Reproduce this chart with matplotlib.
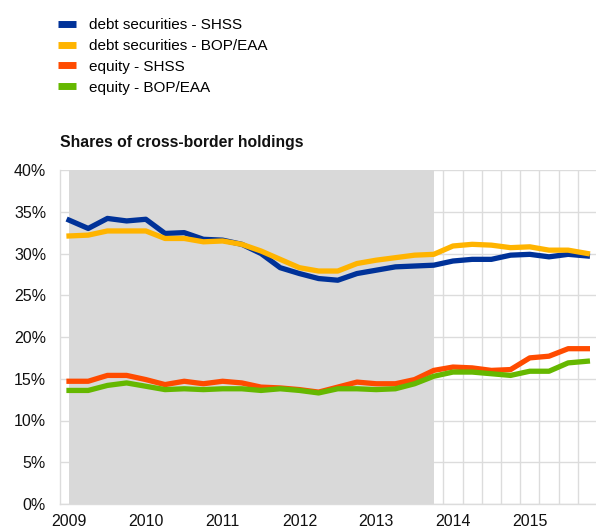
import matplotlib
matplotlib.use("Agg")
import matplotlib.pyplot as plt
from matplotlib.lines import Line2D
import numpy as np

plt.rcParams['font.family'] = ['Liberation Sans', 'DejaVu Sans']

years = ["2009", "2010", "2011", "2012", "2013", "2014", "2015"]
debt_shss = [34.0, 33.0, 34.2, 33.9, 34.1, 32.4, 32.5, 31.7, 31.6, 31.1,
             30.0, 28.3, 27.6, 27.0, 26.8, 27.6, 28.0, 28.4, 28.5, 28.6,
             29.1, 29.3, 29.3, 29.8, 29.9, 29.6, 29.9, 29.7]
debt_bop = [32.1, 32.2, 32.7, 32.7, 32.7, 31.8, 31.8, 31.4, 31.5, 31.1,
            30.3, 29.3, 28.3, 27.9, 27.9, 28.8, 29.2, 29.5, 29.8, 29.9,
            30.9, 31.1, 31.0, 30.7, 30.8, 30.4, 30.4, 30.0]
equity_shss = [14.7, 14.7, 15.4, 15.4, 14.9, 14.3, 14.7, 14.4, 14.7, 14.5,
               14.0, 13.9, 13.7, 13.4, 14.0, 14.6, 14.4, 14.4, 14.9, 16.0,
               16.4, 16.3, 16.0, 16.1, 17.5, 17.7, 18.6, 18.6]
equity_bop = [13.6, 13.6, 14.2, 14.5, 14.1, 13.7, 13.8, 13.7, 13.8, 13.8,
              13.6, 13.8, 13.6, 13.3, 13.8, 13.8, 13.7, 13.8, 14.4, 15.3,
              15.8, 15.8, 15.6, 15.4, 15.9, 15.9, 16.9, 17.1]
labels = ["debt securities - SHSS", "debt securities - BOP/EAA",
          "equity - SHSS", "equity - BOP/EAA"]
colors = ["#003299", "#FFB400", "#FF4B00", "#65B800"]
shade_end = 19  # last quarter of shaded period (2013 Q4)

W, H = 596, 529
fig = plt.figure(figsize=(W / 100, H / 100), dpi=100)
ax = fig.add_axes([60 / W, 25 / H, (W - 60) / W, (504 - 170) / H])

x = np.arange(len(debt_shss))
ax.set_xlim(-0.47, 27.45)
ax.set_ylim(0, 40)

# grid
for yv in range(0, 41, 5):
    ax.axhline(yv, color="#dcdcdc", lw=1.0, zorder=0)
for xv in np.arange(-0.5, 28, 1.0):
    ax.axvline(xv, color="#dcdcdc", lw=1.0, zorder=0)
ax.axvspan(0, shade_end, color="#d9d9d9", lw=0, zorder=1)

series = [debt_shss, debt_bop, equity_shss, equity_bop]
handles = []
for s, c, lab in zip(series, colors, labels):
    ax.plot(x, s, color=c, lw=3.8, zorder=3, solid_joinstyle='round')
    handles.append(Line2D([], [], color=c, lw=5, solid_capstyle='butt'))

for sp in ["top", "right"]:
    ax.spines[sp].set_visible(False)
for sp in ["left", "bottom"]:
    ax.spines[sp].set_color("#dcdcdc")
    ax.spines[sp].set_linewidth(1.0)

ax.set_yticks(range(0, 41, 5))
ax.set_yticklabels([f"{v}%" for v in range(0, 41, 5)], fontsize=11.5, color="#111111")
ax.set_xticks(np.arange(0, 28, 4))
ax.set_xticklabels(years, fontsize=11.5, color="#111111")
ax.tick_params(length=0)
ax.tick_params(axis='x', pad=7)
ax.tick_params(axis='y', pad=10)

fig.text(60 / W, 1 - 142 / H, "Shares of cross-border holdings", fontsize=11.3,
         fontweight="bold", va="center", ha="left", color="#111111")

fig.legend(handles, labels, loc="upper left", bbox_to_anchor=(58 / W, 1 - 18 / H),
           frameon=False, fontsize=11, handlelength=1.2, handletextpad=0.85,
           labelspacing=0.45, borderaxespad=0, borderpad=0)

fig.savefig("out.png", dpi=100)
